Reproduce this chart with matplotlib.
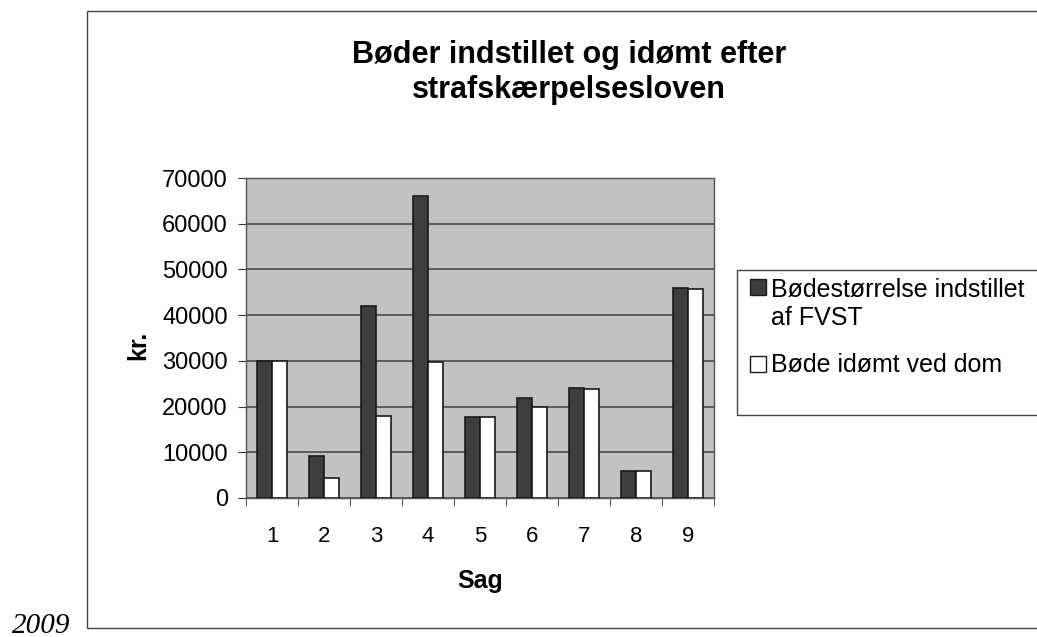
import matplotlib
matplotlib.use("Agg")
import matplotlib.pyplot as plt
from matplotlib.patches import Rectangle
import numpy as np

# data
sager = ['1', '2', '3', '4', '5', '6', '7', '8', '9']
indstillet = [30000, 9200, 42000, 66000, 17700, 21800, 24000, 5900, 46000]
idoemt = [30000, 4400, 18000, 29800, 17700, 19900, 23900, 5900, 45700]
y_ticks = [0, 10000, 20000, 30000, 40000, 50000, 60000, 70000]
serie_navne = ['Bødestørrelse indstillet\naf FVST', 'Bøde idømt ved dom']

plt.rcParams['font.family'] = ['Liberation Sans', 'DejaVu Sans']

W, H = 1037, 637
fig = plt.figure(figsize=(W / 100, H / 100), dpi=100)

def fx(px):
    return px / W

def fy(py):
    return 1 - py / H

# plot area in pixels: x 246-714, y 178-498
ax = fig.add_axes([fx(246), fy(498), (714 - 246) / W, (498 - 178) / H])
ax.set_facecolor('#c2c2c2')

x = np.arange(len(sager))
w = 0.29
b1 = ax.bar(x - w / 2, indstillet, w, color='#3e3e3e', edgecolor='#1a1a1a', linewidth=1.2,
            label=serie_navne[0], zorder=3)
b2 = ax.bar(x + w / 2, idoemt, w, color='white', edgecolor='#1a1a1a', linewidth=1.2,
            label=serie_navne[1], zorder=3)

ax.set_xlim(-0.5, len(sager) - 0.5)
ax.set_ylim(0, 70000)
ax.set_yticks(y_ticks)
ax.set_yticklabels([str(v) for v in y_ticks])
ax.set_xticks(x)
ax.set_xticklabels(sager)
ax.set_xticks(np.arange(len(sager) + 1) - 0.5, minor=True)
ax.tick_params(axis='x', which='major', length=0, pad=20, labelsize=16)
ax.tick_params(axis='x', which='minor', length=6, color='#333333')
ax.tick_params(axis='y', length=6, pad=7, labelsize=17, color='#333333')
ax.yaxis.grid(True, color='#4a4a4a', linewidth=1.2, zorder=1)
for s in ax.spines.values():
    s.set_color('#555555')
    s.set_linewidth(1.0)

ax.set_xlabel('Sag', fontsize=18, fontweight='bold')
ax.xaxis.set_label_coords(0.5, (498 - 569) / 320)
ax.set_ylabel('kr.', fontsize=18, fontweight='bold')
ax.yaxis.set_label_coords((150 - 246) / 468, (498 - 345) / 320)

fig.text(fx(569), fy(63), 'Bøder indstillet og idømt efter',
         ha='center', va='baseline', fontsize=22, fontweight='bold')
fig.text(fx(569), fy(98), 'strafskærpelsesloven',
         ha='center', va='baseline', fontsize=22, fontweight='bold')

# outer chart frame (runs off the right edge of the scan)
fig.patches.append(Rectangle((fx(87), fy(628)), 1.0, (628 - 11) / H,
                             transform=fig.transFigure, fill=False,
                             edgecolor='#444444', linewidth=1.0))
# legend frame with swatches next to the first line of each entry
fig.patches.append(Rectangle((fx(737), fy(415)), 0.4, (415 - 270) / H,
                             transform=fig.transFigure, fill=False,
                             edgecolor='#444444', linewidth=1.0))
# (bars, swatch top, baseline of the entry's last line)
for bars, sw_top, txt_base in [(b1, 279, 325), (b2, 356, 372)]:
    p = bars.patches[0]
    fig.patches.append(Rectangle((fx(750), fy(sw_top + 16)), 16 / W, 16 / H,
                                 transform=fig.transFigure,
                                 facecolor=p.get_facecolor(), edgecolor='#1a1a1a',
                                 linewidth=1.0))
    fig.text(fx(771), fy(txt_base), bars.get_label(), ha='left', va='baseline',
             fontsize=18, linespacing=1.2)

fig.text(fx(12), fy(633), '2009', fontsize=21, fontstyle='italic',
         family=['Liberation Serif', 'DejaVu Serif'], ha='left', va='baseline')

fig.savefig('out.png', dpi=100)
